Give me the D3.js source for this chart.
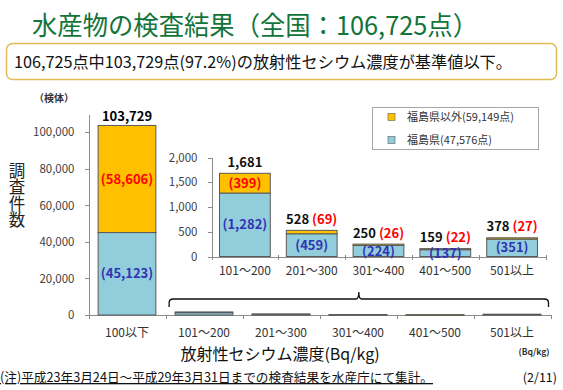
<!DOCTYPE html>
<html>
<head>
<meta charset="utf-8">
<title>水産物の検査結果</title>
<style>
  body { margin: 0; background: #fff; }
  svg text { font-family: "Noto Sans CJK JP", "Noto Sans", sans-serif; }
  .axis text { font-size: 11.5px; fill: #404040; }
  .axis path, .axis line { stroke: #8c8c8c; shape-rendering: crispEdges; }
  .bar { stroke: #595959; stroke-width: 1; }
  .val { font-size: 13px; font-weight: bold; }
</style>
</head>
<body>
<svg width="563" height="390"></svg>
<script src="https://d3js.org/d3.v7.min.js"></script>
<script>
// data
var categories = ["100以下", "101～200", "201～300", "301～400", "401～500", "501以上"];
var fukushima = [45123, 1282, 459, 224, 137, 351];
var others = [58606, 399, 69, 26, 22, 27];
var totals = [103729, 1681, 528, 250, 159, 378];
var mainTicks = [0, 20000, 40000, 60000, 80000, 100000];
var insetTicks = [0, 500, 1000, 1500, 2000];
var legendLabels = ["福島県以外(59,149点)", "福島県(47,576点)"];

var colOther = "#ffc000", colFuku = "#92cddc";
var redTxt = "#ff0000", blueTxt = "#3232b4";

var rows = categories.map(function(c, i) {
  return {cat: c, fuku: fukushima[i], other: others[i], total: totals[i]};
});
var stack = d3.stack().keys(["fuku", "other"]);

var svg = d3.select("svg");

// title
svg.append("text").attr("x", 32).attr("y", 35)
  .attr("textLength", 446).attr("lengthAdjust", "spacingAndGlyphs")
  .style("font-size", "26px").style("fill", "#13743a")
  .text("水産物の検査結果（全国：106,725点）");

// subtitle box
svg.append("rect").attr("x", 6.5).attr("y", 43.5).attr("width", 550).attr("height", 36)
  .attr("rx", 6).attr("fill", "#fff").attr("stroke", "#e2bb55").attr("stroke-width", 1.5);
svg.append("text").attr("x", 14).attr("y", 68)
  .attr("textLength", 498).attr("lengthAdjust", "spacingAndGlyphs")
  .style("font-size", "16px").style("fill", "#111")
  .text("106,725点中103,729点(97.2%)の放射性セシウム濃度が基準値以下。");

// main chart
var x = d3.scaleBand().domain(categories).range([88.5, 550.5]).paddingInner(0.25).paddingOuter(0.125);
var y = d3.scaleLinear().domain([0, 110000]).range([315, 114]);

svg.append("g").attr("class", "axis").attr("transform", "translate(88.5,0)")
  .call(d3.axisLeft(y).tickValues(mainTicks).tickFormat(d3.format(",")).tickSize(4).tickSizeOuter(0).tickPadding(10));

var gx = svg.append("g").attr("class", "axis").attr("transform", "translate(0,315)")
  .call(d3.axisBottom(x).tickSize(0).tickPadding(13));
gx.selectAll("text").style("font-size", "12px").style("fill", "#333");
// ticks at band boundaries
gx.selectAll(".bnd").data(d3.range(categories.length + 1)).enter().append("line")
  .attr("x1", function(i) { return Math.round(x.range()[0] + i * x.step()) + 0.5; })
  .attr("x2", function(i) { return Math.round(x.range()[0] + i * x.step()) + 0.5; })
  .attr("y1", 0).attr("y2", 4);

var series = stack(rows);
svg.append("g").selectAll("g").data(series).enter().append("g")
  .attr("fill", function(s) { return s.key === "fuku" ? colFuku : colOther; })
  .selectAll("rect").data(function(s) { return s; }).enter().append("rect")
  .attr("class", "bar")
  .attr("x", function(d) { return x(d.data.cat); })
  .attr("y", function(d) { return y(d[1]); })
  .attr("width", x.bandwidth())
  .attr("height", function(d) { return Math.max(0.5, y(d[0]) - y(d[1])); });

// labels for the first bar
var r0 = rows[0], cx0 = x(r0.cat) + x.bandwidth() / 2;
svg.append("text").attr("class", "val").attr("x", cx0).attr("y", y(r0.total) - 9)
  .attr("text-anchor", "middle").attr("dy", "0.35em").text(d3.format(",")(r0.total));
svg.append("text").attr("class", "val").attr("x", cx0).attr("y", y(r0.fuku + r0.other / 2))
  .attr("text-anchor", "middle").attr("dy", "0.35em").attr("fill", redTxt).text("(" + d3.format(",")(r0.other) + ")");
svg.append("text").attr("class", "val").attr("x", cx0).attr("y", y(r0.fuku / 2))
  .attr("text-anchor", "middle").attr("dy", "0.35em").attr("fill", blueTxt).text("(" + d3.format(",")(r0.fuku) + ")");

// y title
svg.append("text").attr("x", 34).attr("y", 102).style("font-size", "10px").style("font-weight", "bold")
  .style("fill", "#333").text("（検体）");
svg.append("text").attr("x", 17).attr("y", 162)
  .style("font-size", "16.5px").style("fill", "#222").style("writing-mode", "vertical-rl")
  .text("調査件数");

// x title
svg.append("text").attr("x", 280).attr("y", 360).attr("text-anchor", "middle")
  .style("font-size", "16px").style("fill", "#111").text("放射性セシウム濃度(Bq/kg)");
svg.append("text").attr("x", 534).attr("y", 355).attr("text-anchor", "middle")
  .style("font-size", "8.5px").style("font-weight", "bold").style("fill", "#333").text("(Bq/kg)");

// bracket
var bx0 = x(categories[1]) - 6, bx1 = x.range()[1] - 2, bmid = (bx0 + bx1) / 2;
svg.append("path").attr("fill", "none").attr("stroke", "#111").attr("stroke-width", 1.3)
  .attr("d", "M" + bx0 + ",307 L" + bx0 + ",303 Q" + bx0 + ",299 " + (bx0 + 4) + ",299 L" + (bmid - 3) + ",299 Q" + bmid + ",299 " + bmid + ",292 Q" + bmid + ",299 " + (bmid + 3) + ",299 L" + (bx1 - 4) + ",299 Q" + bx1 + ",299 " + bx1 + ",303 L" + bx1 + ",307");

// inset chart
var insetRows = rows.slice(1);
var xi = d3.scaleBand().domain(insetRows.map(function(d) { return d.cat; }))
  .range([211.5, 545.5]).paddingInner(0.24).paddingOuter(0.12);
var yi = d3.scaleLinear().domain([0, 2000]).range([256.5, 157.5]);

svg.append("g").attr("class", "axis").attr("transform", "translate(211.5,0)")
  .call(d3.axisLeft(yi).tickValues(insetTicks).tickFormat(d3.format(",")).tickSize(4).tickSizeOuter(0).tickPadding(10));
var gxi = svg.append("g").attr("class", "axis").attr("transform", "translate(0,256.5)")
  .call(d3.axisBottom(xi).tickSize(0).tickPadding(10));
gxi.selectAll("text").style("font-size", "12px").style("fill", "#333");
gxi.selectAll(".bnd").data(d3.range(insetRows.length + 1)).enter().append("line")
  .attr("x1", function(i) { return Math.round(xi.range()[0] + i * xi.step()) + 0.5; })
  .attr("x2", function(i) { return Math.round(xi.range()[0] + i * xi.step()) + 0.5; })
  .attr("y1", -2).attr("y2", 3);

var seriesI = stack(insetRows);
svg.append("g").selectAll("g").data(seriesI).enter().append("g")
  .attr("fill", function(s) { return s.key === "fuku" ? colFuku : colOther; })
  .selectAll("rect").data(function(s) { return s; }).enter().append("rect")
  .attr("class", "bar")
  .attr("x", function(d) { return xi(d.data.cat); })
  .attr("y", function(d) { return yi(d[1]); })
  .attr("width", xi.bandwidth())
  .attr("height", function(d) { return Math.max(0.5, yi(d[0]) - yi(d[1])); });

var lab = svg.append("g").selectAll("g").data(insetRows).enter().append("g");
lab.each(function(d) {
  var g = d3.select(this), cx = xi(d.cat) + xi.bandwidth() / 2;
  var inside = yi(0) - yi(d.other) > 14;
  var t = g.append("text").attr("class", "val").attr("x", cx).attr("y", yi(d.total) - 11)
    .attr("dy", "0.35em").attr("text-anchor", "middle");
  t.append("tspan").attr("fill", "#111").text(d3.format(",")(d.total));
  if (inside) {
    g.append("text").attr("class", "val").attr("x", cx).attr("y", yi(d.fuku + d.other / 2))
      .attr("dy", "0.35em").attr("text-anchor", "middle").attr("fill", redTxt)
      .text("(" + d3.format(",")(d.other) + ")");
  } else {
    t.append("tspan").attr("fill", redTxt).attr("dx", 3).text("(" + d3.format(",")(d.other) + ")");
  }
  g.append("text").attr("class", "val").attr("x", cx).attr("y", yi(d.fuku / 2))
    .attr("dy", "0.35em").attr("text-anchor", "middle").attr("fill", blueTxt)
    .text("(" + d3.format(",")(d.fuku) + ")");
});

// legend
var lg = svg.append("g").attr("transform", "translate(372,107)");
lg.append("rect").attr("x", 0.5).attr("y", 0.5).attr("width", 166).attr("height", 42)
  .attr("fill", "#fff").attr("stroke", "#a6a6a6");
lg.selectAll("g").data(legendLabels).enter().append("g")
  .attr("transform", function(d, i) { return "translate(16," + (10 + i * 23) + ")"; })
  .each(function(d, i) {
    var g = d3.select(this);
    g.append("rect").attr("width", 7).attr("height", 7).attr("y", -3.5)
      .attr("fill", i === 0 ? colOther : colFuku).attr("stroke", "#595959").attr("stroke-width", 0.6);
    g.append("text").attr("x", 19).attr("dy", "0.35em").style("font-size", "11px").style("fill", "#333").text(d);
  });

// footnote
svg.append("text").attr("x", 0).attr("y", 382)
  .attr("textLength", 433).attr("lengthAdjust", "spacingAndGlyphs")
  .style("font-size", "13px").style("fill", "#111").style("text-decoration", "underline")
  .text("(注)平成23年3月24日～平成29年3月31日までの検査結果を水産庁にて集計。");
svg.append("text").attr("x", 557).attr("y", 382).attr("text-anchor", "end")
  .style("font-size", "12.5px").style("fill", "#111").text("(2/11)");
</script>
</body>
</html>
